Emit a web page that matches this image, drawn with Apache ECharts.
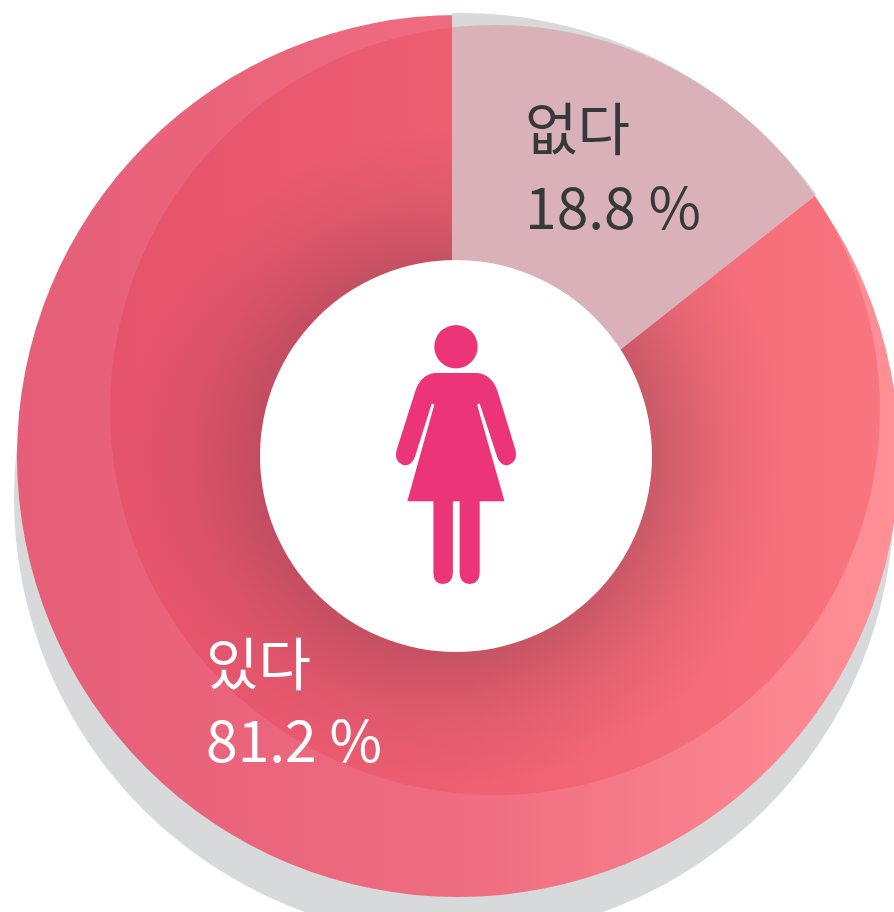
<!DOCTYPE html>
<html><head><meta charset="utf-8">
<style>html,body{margin:0;padding:0;background:#fff}#c{width:894px;height:912px;filter:blur(0.6px)}</style>
<script src="https://cdn.jsdelivr.net/npm/echarts@6/dist/echarts.min.js"></script>
</head><body><div id="c"></div>
<script>
const categories = ['없다', '있다'];
const labelValues = [18.8, 81.2];          // values printed on the chart
const drawnShares = [14.35, 85.65];        // wedge share as the reference actually draws it
const valueSuffix = ' %';

const apex = [452, 483];
const outer = {cx: 458, cy: 456, r: 441};
const inner = {cx: 495, cy: 410, r: 385};
const hole  = {cx: 456, cy: 456, r: 196};
const rim   = {cx: 460, cy: 454, r: 441};

const total = drawnShares.reduce((a, b) => a + b, 0);
function angles(i) {
  let s = 0; for (let k = 0; k < i; k++) s += drawnShares[k];
  return [-Math.PI / 2 + s / total * 2 * Math.PI, -Math.PI / 2 + (s + drawnShares[i]) / total * 2 * Math.PI];
}
function wedge(i, style, clip) {
  const [a, b] = angles(i);
  return {type: 'sector', silent: true,
    shape: {cx: apex[0], cy: apex[1], r0: 0, r: 720, startAngle: a, endAngle: b, clockwise: true},
    style: style, clipPath: {type: 'circle', shape: clip}};
}
const lin = (stops) => ({type: 'linear', x: 17, y: 0, x2: 895, y2: 0, global: true,
  colorStops: stops.map(([offset, color]) => ({offset, color}))});

const outerFill = lin([[0, '#E65E78'], [0.5, '#EE6C80'], [1, '#FF9096']]);
const innerFill = lin([[0, '#E34F6A'], [0.5, '#EE5F72'], [1, '#F9767F']]);
const shade = {type: 'radial', x: hole.cx, y: hole.cy, r: 330, global: true, colorStops: [
  {offset: 0, color: 'rgba(70,40,50,0.3)'}, {offset: 0.59, color: 'rgba(70,40,50,0.24)'},
  {offset: 0.8, color: 'rgba(70,40,50,0.08)'}, {offset: 1, color: 'rgba(70,40,50,0)'}]};

const figure = 'M165 188 L290 188 Q335 192 352 245 L405 420 Q412 455 382 465 Q360 468 350 440 L298 280 L290 282 L372 573 L298 573 L298 790 Q296 822 268 822 Q240 822 238 790 L238 573 L218 573 L218 790 Q216 822 188 822 Q160 822 160 790 L160 573 L82 573 L163 282 L155 280 L105 440 Q95 468 72 465 Q42 455 50 420 L105 245 Q122 192 165 188 Z';

const font = '"Noto Sans CJK KR","Noto Sans",sans-serif';
const labelSpots = [{x: 525, y: 128, y2: 207, fill: '#36393A'}, {x: 206, y: 663, y2: 740, fill: '#FFFFFF'}];

const chart = echarts.init(document.getElementById('c'), null, {renderer: 'canvas'});
const custom = (name, data, fn) => ({type: 'custom', name, coordinateSystem: 'none', silent: true, animation: false, data, renderItem: fn});

chart.setOption({
  animation: false,
  backgroundColor: '#fff',
  series: [
    custom('shadow', [0], () => ({type: 'circle', shape: {cx: 454, cy: 498, r: 440}, style: {fill: '#D8D9DB'}})),
    custom('rim', [0], () => wedge(0, {fill: '#D8D9DB'}, rim)),
    custom('outer', [1], () => wedge(1, {fill: outerFill}, outer)),
    custom('inner', [0, 1], (p) => p.dataIndex === 0
      ? wedge(0, {fill: '#DAB1B8'}, inner) : wedge(1, {fill: innerFill}, inner)),
    custom('shade', [1], () => wedge(1, {fill: shade}, inner)),
    custom('hole', [0], () => ({type: 'group', children: [
      {type: 'circle', shape: hole, style: {fill: '#fff'}},
      {type: 'circle', shape: {cx: 456, cy: 346.7, r: 21.7}, style: {fill: '#EC3478'}},
      {type: 'path', shape: {pathData: figure, layout: 'cover', x: 396, y: 373, width: 120, height: 211}, style: {fill: '#EC3478'}}
    ]})),
    custom('labels', [0, 1], (p) => {
      const i = p.dataIndex, s = labelSpots[i];
      const base = {font: '400 57px ' + font, fill: s.fill, align: 'left', verticalAlign: 'middle'};
      return {type: 'group', children: [
        {type: 'text', style: Object.assign({text: categories[i], x: s.x, y: s.y}, base)},
        {type: 'text', style: Object.assign({text: labelValues[i].toFixed(1) + valueSuffix, x: s.x, y: s.y2}, base)}
      ]};
    })
  ]
});
</script></body></html>
